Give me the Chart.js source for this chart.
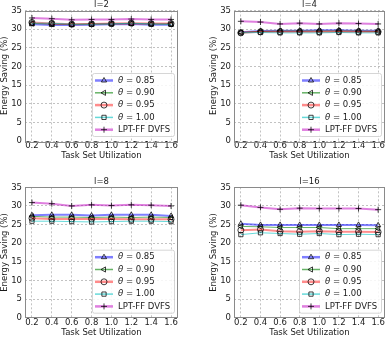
<!DOCTYPE html>
<html><head><meta charset="utf-8">
<script src="https://cdn.jsdelivr.net/npm/chart.js@4/dist/chart.umd.min.js"></script>
<style>
html,body{margin:0;padding:0;background:#fff;}
#wrap{position:relative;width:390px;height:340px;overflow:hidden;background:#fff;}
canvas{position:absolute;}
</style></head><body>
<div id="wrap">
<canvas id="c1" width="195" height="170" style="left:0;top:0;width:195px;height:170px"></canvas>
<canvas id="c2" width="195" height="170" style="left:195px;top:0;width:195px;height:170px"></canvas>
<canvas id="c3" width="195" height="170" style="left:0;top:170px;width:195px;height:170px"></canvas>
<canvas id="c4" width="195" height="170" style="left:195px;top:170px;width:195px;height:170px"></canvas>
</div>
<script>
// ---- data ----
const utilization = [0.2, 0.4, 0.6, 0.8, 1.0, 1.2, 1.4, 1.6];
const yTicks = [0, 5, 10, 15, 20, 25, 30, 35];
const seriesLabels = ['θ = 0.85', 'θ = 0.90', 'θ = 0.95', 'θ = 1.00', 'LPT-FF DVFS'];
const panelTitles = ['l=2', 'l=4', 'l=8', 'l=16'];
const xAxisTitle = 'Task Set Utilization';
const yAxisTitle = 'Energy Saving (%)';

const l2_theta085 = [31.3, 31.1, 31.1, 31.2, 31.3, 31.4, 31.2, 31.2];
const l2_theta090 = [31.5, 31.4, 31.3, 31.4, 31.4, 31.5, 31.4, 31.4];
const l2_theta095 = [31.8, 31.5, 31.3, 31.4, 31.5, 31.6, 31.5, 31.5];
const l2_theta100 = [31.6, 31.6, 31.3, 31.3, 31.4, 31.6, 31.4, 31.3];
const l2_lptff    = [33.0, 32.8, 32.5, 32.6, 32.6, 32.7, 32.6, 32.6];

const l4_theta085 = [29.2, 29.5, 29.6, 29.6, 29.7, 29.7, 29.6, 29.6];
const l4_theta090 = [29.1, 29.4, 29.5, 29.5, 29.5, 29.5, 29.5, 29.4];
const l4_theta095 = [29.0, 29.3, 29.3, 29.3, 29.3, 29.4, 29.3, 29.3];
const l4_theta100 = [29.0, 29.1, 29.0, 29.0, 29.0, 29.1, 29.0, 29.0];
const l4_lptff    = [32.1, 31.9, 31.4, 31.6, 31.4, 31.6, 31.5, 31.4];

const l8_theta085 = [27.5, 27.6, 27.6, 27.4, 27.6, 27.6, 27.6, 27.3];
const l8_theta090 = [27.2, 27.0, 27.0, 26.9, 27.0, 26.9, 27.0, 26.9];
const l8_theta095 = [26.7, 26.5, 26.5, 26.5, 26.5, 26.4, 26.4, 26.4];
const l8_theta100 = [25.9, 25.9, 25.8, 25.7, 25.8, 25.9, 25.9, 25.8];
const l8_lptff    = [30.9, 30.6, 30.0, 30.3, 30.1, 30.3, 30.2, 30.0];

const l16_theta085 = [25.2, 24.9, 24.9, 24.9, 24.9, 24.9, 24.9, 24.8];
const l16_theta090 = [24.5, 24.4, 24.2, 24.2, 24.2, 23.9, 23.9, 23.9];
const l16_theta095 = [23.5, 23.7, 23.2, 23.1, 23.2, 23.1, 23.1, 23.0];
const l16_theta100 = [22.3, 22.8, 22.6, 22.4, 22.6, 22.3, 22.4, 22.3];
const l16_lptff    = [30.2, 29.6, 29.1, 29.4, 29.3, 29.3, 29.3, 29.0];

// ---- styles ----
const FONT = "'DejaVu Sans', sans-serif";
const TXT = '#1a1a1a';
const seriesStyles = [
  {color: 'rgba(0,0,255,0.5)',     width: 2,   point: 'triangle', rot: 0},
  {color: 'rgba(0,128,0,0.6)',     width: 1,   point: 'triangle', rot: -90},
  {color: 'rgba(255,0,0,0.45)',    width: 2,   point: 'circle',   rot: 0},
  {color: 'rgba(0,191,191,0.6)',   width: 1,   point: 'rect',     rot: 0},
  {color: 'rgba(191,0,191,0.5)',   width: 2,   point: 'cross',    rot: 0}
];
const MARKER_EDGE = 'rgba(0,0,0,0.75)';

function drawMarker(ctx, style, rot, x, y, r) {
  if (Chart.helpers && Chart.helpers.drawPoint) {
    Chart.helpers.drawPoint(ctx, {pointStyle: style, rotation: rot, radius: r, borderWidth: 1}, x, y);
    return;
  }
}

const framePlugin = {
  id: 'frameAndLegend',
  afterDraw(chart) {
    const {ctx, chartArea: a} = chart;
    ctx.save();
    ctx.strokeStyle = '#8a8a8a';
    ctx.lineWidth = 1;
    ctx.strokeRect(Math.round(a.left) + 0.5, Math.round(a.top) + 0.5,
                   Math.round(a.right - a.left) - 1 + 0, Math.round(a.bottom - a.top));
    // legend (lower right)
    const w = 82, h = 63;
    const lx = a.right - 4 - w, ly = a.bottom - 5 - h;
    ctx.beginPath();
    if (ctx.roundRect) ctx.roundRect(lx + 0.5, ly + 0.5, w, h, 2); else ctx.rect(lx + 0.5, ly + 0.5, w, h);
    ctx.fillStyle = 'rgba(255,255,255,0.85)';
    ctx.fill();
    ctx.strokeStyle = '#cccccc';
    ctx.lineWidth = 0.8;
    ctx.stroke();
    chart.data.datasets.forEach((ds, i) => {
      const cy = ly + 7.5 + i * 12.3;
      ctx.beginPath();
      ctx.strokeStyle = ds.borderColor;
      ctx.lineWidth = ds.borderWidth + 0.5;
      ctx.moveTo(lx + 3, cy);
      ctx.lineTo(lx + 21, cy);
      ctx.stroke();
      ctx.strokeStyle = MARKER_EDGE;
      ctx.fillStyle = 'rgba(0,0,0,0)';
      ctx.lineWidth = 1;
      drawMarker(ctx, ds.pointStyle, ds.pointRotation, lx + 12, cy, 3);
      ctx.fillStyle = TXT;
      ctx.textBaseline = 'middle';
      ctx.textAlign = 'left';
      let tx = lx + 26;
      const label = ds.label;
      if (label.charAt(0) === 'θ') {
        ctx.font = "italic 8.5px " + FONT;
        ctx.fillText('θ', tx, cy);
        tx += ctx.measureText('θ').width;
        ctx.font = "8.5px " + FONT;
        ctx.fillText(label.slice(1), tx, cy);
      } else {
        ctx.font = "8.5px " + FONT;
        ctx.fillText(label, tx, cy);
      }
    });
    ctx.restore();
  }
};

function makePanel(id, title, seriesData, pad) {
  const tickFont = {family: FONT, size: 8.5, lineHeight: 1};
  const datasets = seriesData.map((vals, i) => ({
    label: seriesLabels[i],
    data: utilization.map((u, j) => ({x: u, y: vals[j]})),
    borderColor: seriesStyles[i].color,
    borderWidth: seriesStyles[i].width,
    pointStyle: seriesStyles[i].point,
    pointRotation: seriesStyles[i].rot,
    pointRadius: 3,
    pointBorderWidth: 1,
    pointBorderColor: MARKER_EDGE,
    pointBackgroundColor: 'rgba(0,0,0,0)',
    fill: false,
    tension: 0,
    order: seriesData.length - i
  }));
  return new Chart(document.getElementById(id), {
    type: 'line',
    data: {datasets},
    plugins: [framePlugin],
    options: {
      responsive: false,
      animation: false,
      devicePixelRatio: 1,
      layout: {padding: pad},
      plugins: {
        legend: {display: false},
        tooltip: {enabled: false},
        title: {
          display: true, text: title, fullSize: false, color: TXT,
          font: {family: FONT, size: 8.5, weight: 'normal', lineHeight: 1},
          padding: {top: 0, bottom: 1}
        }
      },
      scales: {
        x: {
          type: 'linear', min: 0.13, max: 1.67,
          afterBuildTicks: s => { s.ticks = utilization.map(v => ({value: v})); },
          afterFit: s => { s.height = 20; },
          ticks: {font: tickFont, color: TXT, padding: 1, maxRotation: 0, autoSkip: false,
                  callback: v => Number(v).toFixed(1)},
          grid: {color: '#b3b3b3', lineWidth: 0.8, drawTicks: false},
          border: {display: false, dash: [2, 2]},
          title: {display: true, text: xAxisTitle, color: TXT,
                  font: {family: FONT, size: 8.5, lineHeight: 1.2}, padding: {top: 0, bottom: 0}}
        },
        y: {
          min: 0, max: 35,
          afterBuildTicks: s => { s.ticks = yTicks.map(v => ({value: v})); },
          afterFit: s => { s.width = 25; },
          ticks: {font: tickFont, color: TXT, padding: 3},
          grid: {color: '#b3b3b3', lineWidth: 0.8, drawTicks: false},
          border: {display: false, dash: [2, 2]},
          title: {display: true, text: yAxisTitle, color: TXT,
                  font: {family: FONT, size: 8.5, lineHeight: 1.2}, padding: {top: 0, bottom: 0}}
        }
      }
    }
  });
}

makePanel('c1', panelTitles[0], [l2_theta085, l2_theta090, l2_theta095, l2_theta100, l2_lptff],
  {left: 0, right: 17, top: 1, bottom: 9});
makePanel('c2', panelTitles[1], [l4_theta085, l4_theta090, l4_theta095, l4_theta100, l4_lptff],
  {left: 14, right: 3, top: 1, bottom: 9});
makePanel('c3', panelTitles[2], [l8_theta085, l8_theta090, l8_theta095, l8_theta100, l8_lptff],
  {left: 0, right: 17, top: 7.8, bottom: 2.3});
makePanel('c4', panelTitles[3], [l16_theta085, l16_theta090, l16_theta095, l16_theta100, l16_lptff],
  {left: 14, right: 2, top: 7.8, bottom: 2.3});
</script>
</body></html>
